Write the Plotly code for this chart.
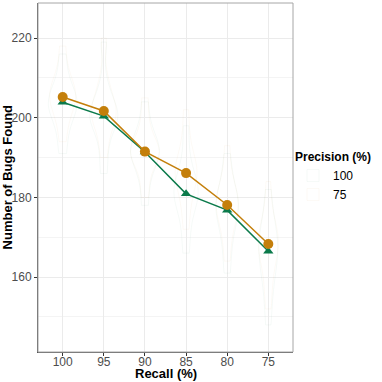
import plotly.graph_objects as go

# -----------------------------
# data
# -----------------------------
recall = ["100", "95", "90", "85", "80", "75"]
precision = ["100", "75"]

mean_p100 = [203.9, 200.4, 191.4, 180.9, 176.8, 166.5]
mean_p75 = [205.2, 201.7, 191.5, 186.1, 178.1, 168.3]

# rough per-run counts read off the (very faint) violins
runs_p100 = {
    "100": [191, 196, 200, 202, 203, 204, 205, 207, 210, 216],
    "95": [186, 192, 197, 199, 200, 201, 202, 204, 208, 219],
    "90": [178, 184, 188, 190, 191, 192, 193, 195, 198, 204],
    "85": [166, 172, 177, 179, 181, 182, 183, 185, 190, 198],
    "80": [161, 167, 172, 175, 177, 178, 179, 181, 185, 191],
    "75": [148, 155, 160, 164, 166, 167, 169, 171, 175, 182],
}
runs_p75 = {
    "100": [194, 199, 202, 204, 205, 206, 207, 209, 212, 218],
    "95": [190, 195, 199, 200, 201, 202, 204, 206, 210, 220],
    "90": [180, 185, 189, 190, 191, 192, 193, 195, 199, 205],
    "85": [172, 178, 182, 184, 186, 187, 188, 190, 195, 202],
    "80": [164, 170, 174, 176, 178, 179, 180, 182, 186, 193],
    "75": [152, 158, 163, 166, 168, 169, 170, 172, 176, 184],
}

GREEN = "#0b7a4b"
ORANGE = "#c47f0b"
FONT = "Liberation Sans, Arial, sans-serif"

fig = go.Figure()

# violins (almost invisible in the original)
for name, runs, col in [
    ("100", runs_p100, "rgba(11,122,75,0.07)"),
    ("75", runs_p75, "rgba(196,127,11,0.07)"),
]:
    xs, ys = [], []
    for r in recall:
        xs += [r] * len(runs[r])
        ys += runs[r]
    fig.add_trace(go.Violin(
        x=xs, y=ys, name=name, legendgroup=name,
        line=dict(color=col, width=0.6), fillcolor="rgba(255,255,255,0)",
        points=False, spanmode="hard", width=0.7,
        hoverinfo="skip", showlegend=True,
    ))

# mean lines
fig.add_trace(go.Scatter(
    x=recall, y=mean_p100, mode="lines+markers",
    line=dict(color=GREEN, width=1.5),
    marker=dict(symbol="triangle-up", size=9, color=GREEN),
    showlegend=False,
))
fig.add_trace(go.Scatter(
    x=recall, y=mean_p75, mode="lines+markers",
    line=dict(color=ORANGE, width=1.5),
    marker=dict(symbol="circle", size=10, color=ORANGE),
    showlegend=False,
))

# panel border (light on top/right)
fig.add_shape(type="rect", xref="paper", yref="paper", x0=0, y0=0, x1=1, y1=1,
              line=dict(color="#a6a6a6", width=1), layer="above")

# axis titles as annotations so they sit where ggplot puts them
fig.add_annotation(text="<b>Recall (%)</b>", xref="paper", yref="paper",
                   x=0.5, y=-0.063, xanchor="center", yanchor="middle",
                   showarrow=False, font=dict(size=13, color="black"))
fig.add_annotation(text="<b>Number of Bugs Found</b>", xref="paper", yref="paper",
                   x=-0.118, y=0.5, xanchor="center", yanchor="middle", textangle=-90,
                   showarrow=False, font=dict(size=13, color="black"))

fig.update_layout(
    width=382, height=382,
    margin=dict(l=38, r=89, t=3, b=30, autoexpand=False),
    paper_bgcolor="white", plot_bgcolor="white",
    font=dict(family=FONT, size=12, color="black"),
    violinmode="overlay",
    xaxis=dict(
        type="category", categoryorder="array", categoryarray=recall,
        range=[-0.6, 5.6], automargin=False,
        tickfont=dict(size=12, color="#4d4d4d"),
        ticklabelstandoff=-4,
        showgrid=True, gridcolor="#ebebeb", gridwidth=1,
        ticks="outside", ticklen=3, tickcolor="#333333",
        showline=True, linecolor="#555555", linewidth=1,
        zeroline=False,
    ),
    yaxis=dict(
        range=[141.2, 228.8], automargin=False,
        tickvals=[160, 180, 200, 220],
        tickfont=dict(size=12, color="#4d4d4d"),
        showgrid=True, gridcolor="#ebebeb", gridwidth=1,
        minor=dict(tickvals=[150, 170, 190, 210], showgrid=True,
                   gridcolor="#f4f4f4", gridwidth=1),
        ticks="outside", ticklen=3, tickcolor="#333333",
        showline=True, linecolor="#555555", linewidth=1,
        zeroline=False,
    ),
    legend=dict(
        title=dict(text="<b>Precision (%)</b>", font=dict(size=12)),
        font=dict(size=12),
        x=1.0, xanchor="left", y=0.5, yanchor="middle",
        bgcolor="rgba(0,0,0,0)", tracegroupgap=0,
    ),
)

# the page body has a default 8px margin; drop it so the figure fills the window
fig.write_html("out.html", config={"displayModeBar": False},
               post_script="document.body.style.margin='0';")
